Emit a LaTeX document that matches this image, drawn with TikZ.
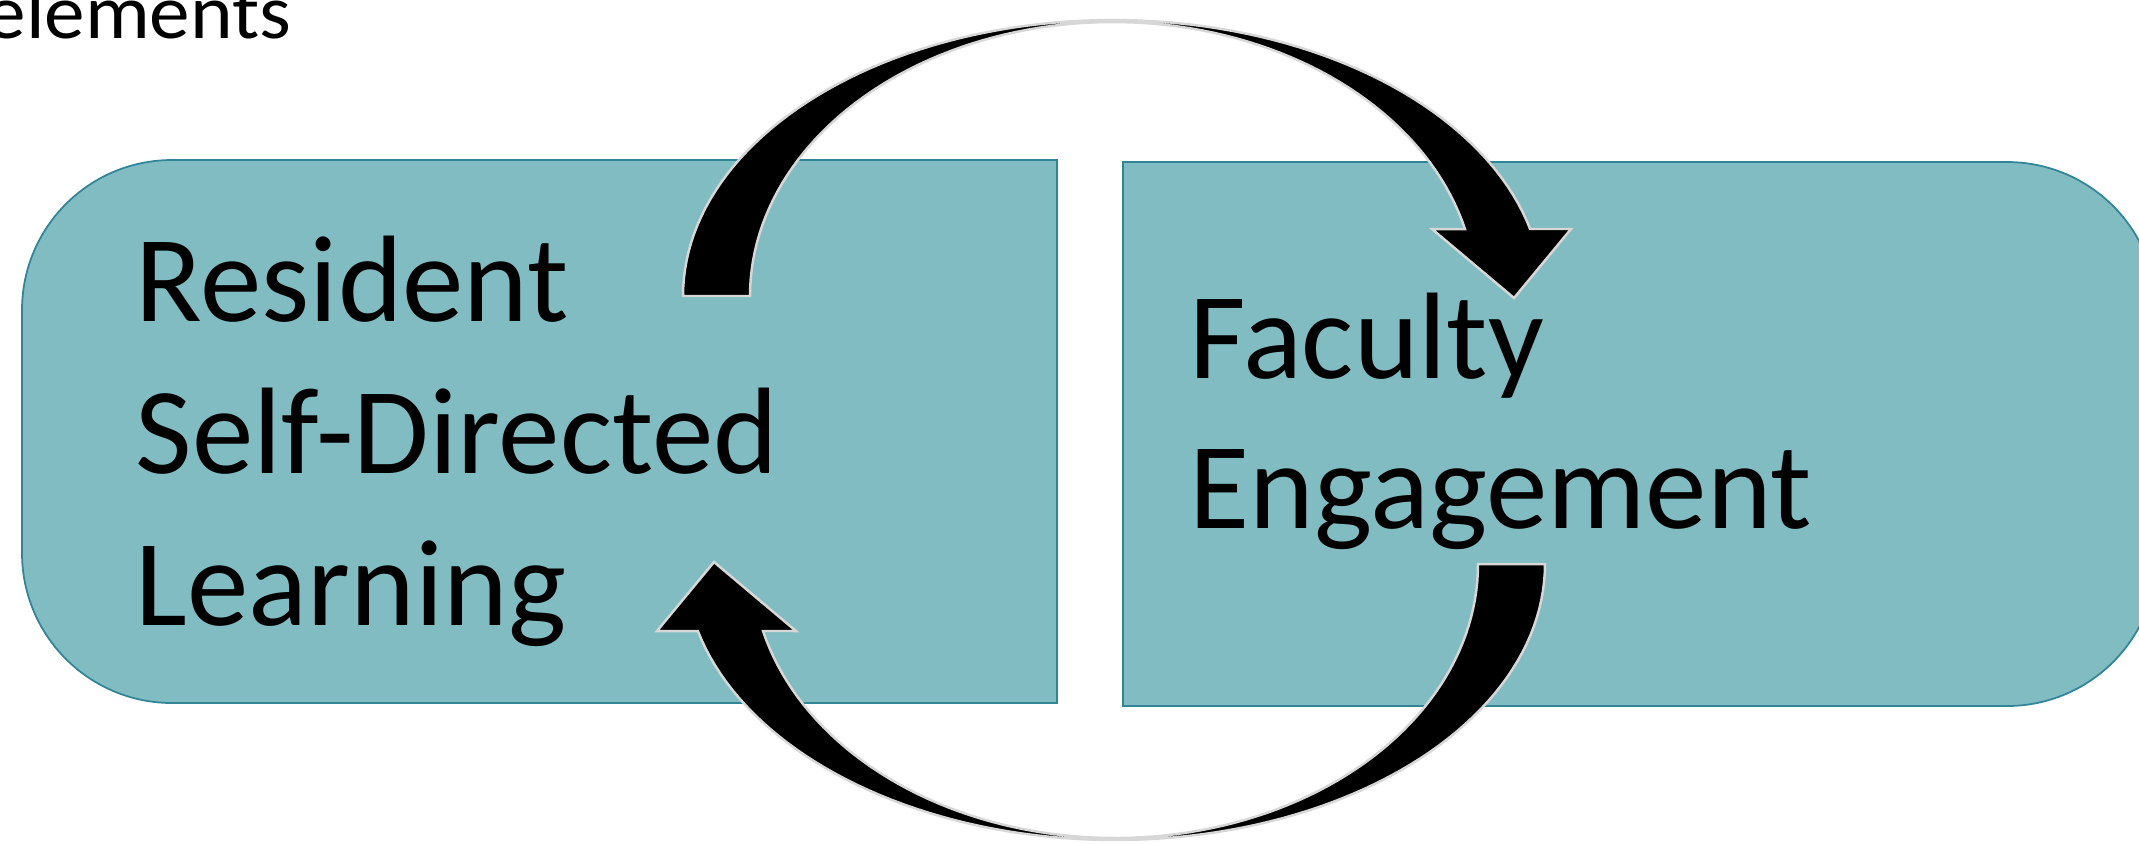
\documentclass[tikz,border=0pt]{standalone}
\usepackage{fontspec}
\setmainfont{Carlito}
\definecolor{boxfill}{RGB}{128,188,194}
\definecolor{boxline}{RGB}{49,133,150}
\definecolor{arrowedge}{RGB}{215,215,215}
\begin{document}
\begin{tikzpicture}[x=0.01cm,y=-0.01cm,
  boxshape/.style={fill=boxfill,draw=boxline,line width=0.5pt},
  boxtext/.style={font=\fontsize{35}{42}\selectfont,anchor=base west,inner sep=0pt,text=black},
  cyclearrow/.style={fill=black,draw=arrowedge,line width=0.7pt,line join=miter},
  cycarrow/.pic={
    \draw[cyclearrow] plot[domain=180:14.05,samples=90] ({1113+430*cos(\x)},{296-276*sin(\x)})
      -- (1571,229) -- (1514,298) -- (1432,229)
      -- plot[domain=14.15:180,samples=90] ({1113+363*cos(\x)},{296-274*sin(\x)}) -- cycle;
  }]
\useasboundingbox (0,0) rectangle (2139,844);
\clip (0,0) rectangle (2139,844);
\node[font=\fontsize{22}{26}\selectfont,xscale=1.05,anchor=base east,inner sep=0pt] (title) at (292,38) {elements};
% left box
\draw[boxshape,rounded corners=1.5cm] (540,160) -- (22,160) -- (22,703) -- (540,703)
  [sharp corners] -- (1057,703) -- (1057,160) -- cycle;
% right box
\draw[boxshape,rounded corners=1.5cm] (1640,706) -- (2157,706) -- (2157,162) -- (1640,162)
  [sharp corners] -- (1123,162) -- (1123,706) -- cycle;
\coordinate (leftbox) at (540,431);
\coordinate (rightbox) at (1640,434);
\node[boxtext] (resident) at (135,321) {Resident};
\node[boxtext] (selfdir) at (135,473) {Self-Directed};
\node[boxtext] (learning) at (135,625) {Learning};
\node[boxtext] (faculty) at (1189,378) {Faculty};
\node[boxtext] (engagement) at (1189,528) {Engagement};
% cycle arrows
\pic (toparrow) at (0,0) {cycarrow};
\pic[rotate=180] (bottomarrow) at (2228,860) {cycarrow};
\end{tikzpicture}
\end{document}
